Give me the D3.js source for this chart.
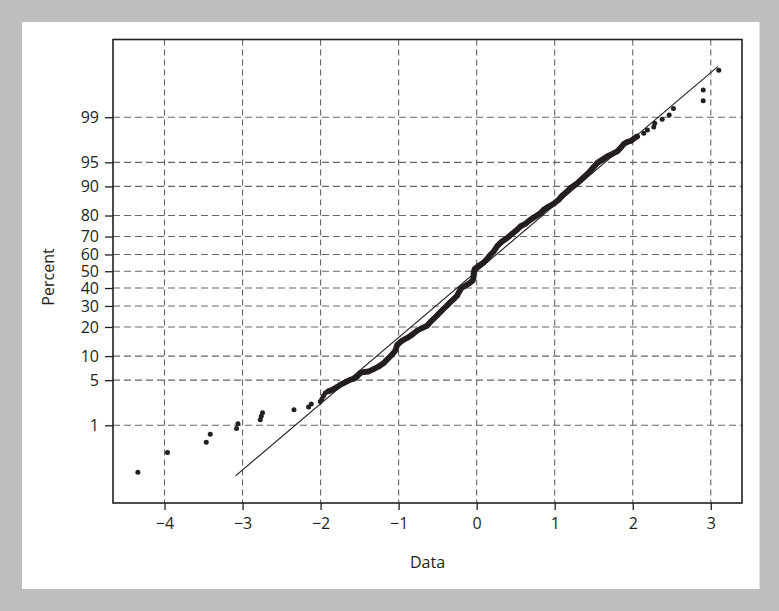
<!DOCTYPE html>
<html><head><meta charset="utf-8">
<script src="https://cdn.jsdelivr.net/npm/d3@7"></script>
<style>body{margin:0;background:#bdbec0;} svg{display:block;}</style>
</head><body><svg id="c" width="779" height="611"></svg>
<script>
// ---- data ----
const xTicks = [-4, -3, -2, -1, 0, 1, 2, 3];
const percentTicks = [1, 5, 10, 20, 30, 40, 50, 60, 70, 80, 90, 95, 99];

const dataX = [
  -4.341, -3.962, -3.465, -3.414, -3.077, -3.059, -2.773, -2.760, -2.744, -2.341,
  -2.154, -2.119, -2.004, -1.982, -1.962, -1.940, -1.901, -1.850, -1.790, -1.747,
  -1.705, -1.662, -1.619, -1.577, -1.533, -1.491, -1.449, -1.385, -1.321, -1.256,
  -1.192, -1.128, -1.085, -1.042, -1.017, -0.956, -0.892, -0.828, -0.764, -0.700,
  -0.636, -0.594, -0.551, -0.508, -0.465, -0.423, -0.379, -0.337, -0.295, -0.251,
  -0.222, -0.196, -0.145, -0.090, -0.051, -0.038, -0.038, -0.026, 0.026, 0.082,
  0.133, 0.176, 0.218, 0.262, 0.326, 0.390, 0.454, 0.518, 0.560, 0.624,
  0.688, 0.753, 0.817, 0.859, 0.923, 0.987, 1.051, 1.095, 1.159, 1.201,
  1.265, 1.329, 1.394, 1.458, 1.544, 1.608, 1.672, 1.736, 1.800, 1.842,
  1.885, 1.928, 1.983, 2.013, 2.056, 2.141, 2.188, 2.269, 2.282, 2.377,
  2.467, 2.522, 2.903, 2.903, 3.103
];
const dataPercent = [
  0.12, 0.31, 0.49, 0.69, 0.88, 1.06, 1.24, 1.42, 1.63, 1.82,
  2.01, 2.24, 2.46, 2.71, 3.00, 3.29, 3.49, 3.67, 4.01, 4.32,
  4.56, 4.80, 5.06, 5.22, 5.60, 6.20, 6.39, 6.50, 6.98, 7.52,
  8.27, 9.49, 10.36, 11.58, 13.35, 14.69, 15.65, 16.87, 18.44, 19.55,
  20.52, 22.15, 23.65, 25.21, 26.89, 28.56, 30.26, 32.10, 33.72, 35.57,
  38.02, 39.98, 41.33, 42.93, 44.47, 46.86, 49.28, 51.32, 53.31, 54.93,
  57.30, 59.83, 61.75, 64.73, 67.36, 69.21, 71.44, 73.47, 75.08, 76.35,
  78.17, 79.61, 81.03, 82.36, 83.62, 84.61, 85.99, 87.29, 88.59, 89.56,
  90.44, 91.50, 92.55, 93.55, 94.89, 95.39, 95.85, 96.17, 96.48, 96.86,
  97.27, 97.45, 97.57, 97.74, 97.91, 98.15, 98.35, 98.53, 98.73, 98.92,
  99.09, 99.30, 99.50, 99.69, 99.88
];
const fitX = [-3.09, 3.09];
const fitPercent = [0.1, 99.9];

// ---- helpers ----
function probit(p) {
  const a = [-3.969683028665376e+01, 2.209460984245205e+02, -2.759285104469687e+02, 1.383577518672690e+02, -3.066479806614716e+01, 2.506628277459239e+00];
  const b = [-5.447609879822406e+01, 1.615858368580409e+02, -1.556989798598866e+02, 6.680131188771972e+01, -1.328068155288572e+01];
  const c = [-7.784894002430293e-03, -3.223964580411365e-01, -2.400758277161838e+00, -2.549732539343734e+00, 4.374664141464968e+00, 2.938163982698783e+00];
  const d = [7.784695709041462e-03, 3.224671290700398e-01, 2.445134137142996e+00, 3.754408661907416e+00];
  const pl = 0.02425;
  let q, r;
  if (p < pl) { q = Math.sqrt(-2 * Math.log(p));
    return (((((c[0]*q+c[1])*q+c[2])*q+c[3])*q+c[4])*q+c[5]) / ((((d[0]*q+d[1])*q+d[2])*q+d[3])*q+1); }
  if (p > 1 - pl) { q = Math.sqrt(-2 * Math.log(1 - p));
    return -(((((c[0]*q+c[1])*q+c[2])*q+c[3])*q+c[4])*q+c[5]) / ((((d[0]*q+d[1])*q+d[2])*q+d[3])*q+1); }
  q = p - 0.5; r = q * q;
  return (((((a[0]*r+a[1])*r+a[2])*r+a[3])*r+a[4])*r+a[5])*q / (((((b[0]*r+b[1])*r+b[2])*r+b[3])*r+b[4])*r+1);
}

// ---- layout ----
const svg = d3.select('#c');
const W = 779, H = 611;
const FONT = "'Open Sans', 'Noto Sans', sans-serif";
svg.append('rect').attr('x', 0).attr('y', 0).attr('width', W).attr('height', H).attr('fill', '#bdbec0');
svg.append('rect').attr('x', 22).attr('y', 22).attr('width', 737.5).attr('height', 567).attr('fill', '#fff');

const L = 113, R = 742, T = 39.5, B = 503;
const x = d3.scaleLinear().domain([-4.66, 3.4]).range([L, R]);
const yz = d3.scaleLinear().domain([-3.5, 3.5]).range([B, T]);
const y = p => yz(probit(p / 100));

const g = svg.append('g');

// grid
const gridCol = '#666';
g.selectAll('.vg').data(xTicks).enter().append('line')
  .attr('x1', d => x(d)).attr('x2', d => x(d)).attr('y1', T).attr('y2', B)
  .attr('stroke', gridCol).attr('stroke-width', 1.1).attr('stroke-dasharray', '6,4');
g.selectAll('.hg').data(percentTicks).enter().append('line')
  .attr('x1', L).attr('x2', R).attr('y1', d => y(d)).attr('y2', d => y(d))
  .attr('stroke', gridCol).attr('stroke-width', 1.1).attr('stroke-dasharray', '7,4');

// axes
const xAxis = d3.axisBottom(x).tickValues(xTicks).tickSize(7).tickPadding(8)
  .tickFormat(d3.format('d'));
const gx = svg.append('g').attr('transform', `translate(0,${B})`).call(xAxis);
gx.select('.domain').remove();
gx.selectAll('line').attr('stroke', '#231f20').attr('stroke-width', 1.3);
gx.selectAll('text').attr('font-family', FONT).attr('font-size', 16).attr('fill', '#231f20');

const yAxis = d3.axisLeft(yz).tickValues(percentTicks.map(p => probit(p / 100)))
  .tickSize(8).tickPadding(6)
  .tickFormat((d, i) => String(percentTicks[i]));
const gy = svg.append('g').attr('transform', `translate(${L},0)`).call(yAxis);
gy.select('.domain').remove();
gy.selectAll('line').attr('stroke', '#231f20').attr('stroke-width', 1.3);
gy.selectAll('text').attr('font-family', FONT).attr('font-size', 16).attr('fill', '#231f20');

// frame
svg.append('rect').attr('x', L).attr('y', T).attr('width', R - L).attr('height', B - T)
  .attr('fill', 'none').attr('stroke', '#231f20').attr('stroke-width', 1.6);

// fitted line
const pts = dataX.map((v, i) => ({ x: v, p: dataPercent[i] }));
svg.append('path')
  .attr('d', d3.line()(fitX.map((v, i) => [x(v), y(fitPercent[i])])))
  .attr('stroke', '#231f20').attr('stroke-width', 1.1).attr('fill', 'none');

// dense band drawn through the points
const band = pts.slice(16, 95);
svg.append('path')
  .attr('d', d3.line().x(d => x(d.x)).y(d => y(d.p)).curve(d3.curveLinear)(band))
  .attr('stroke', '#231f20').attr('stroke-width', 5.8).attr('fill', 'none')
  .attr('stroke-linejoin', 'round').attr('stroke-linecap', 'round');

svg.append('g').selectAll('circle').data(pts).enter().append('circle')
  .attr('cx', d => x(d.x)).attr('cy', d => y(d.p)).attr('r', 2.5).attr('fill', '#231f20');

// titles
svg.append('text').attr('x', (L + R) / 2).attr('y', 568).attr('text-anchor', 'middle')
  .attr('font-family', FONT).attr('font-size', 16).attr('fill', '#231f20').text('Data');
svg.append('text').attr('transform', 'translate(53.5,277) rotate(-90)').attr('text-anchor', 'middle')
  .attr('font-family', FONT).attr('font-size', 16).attr('fill', '#231f20').text('Percent');
</script>
</body></html>
